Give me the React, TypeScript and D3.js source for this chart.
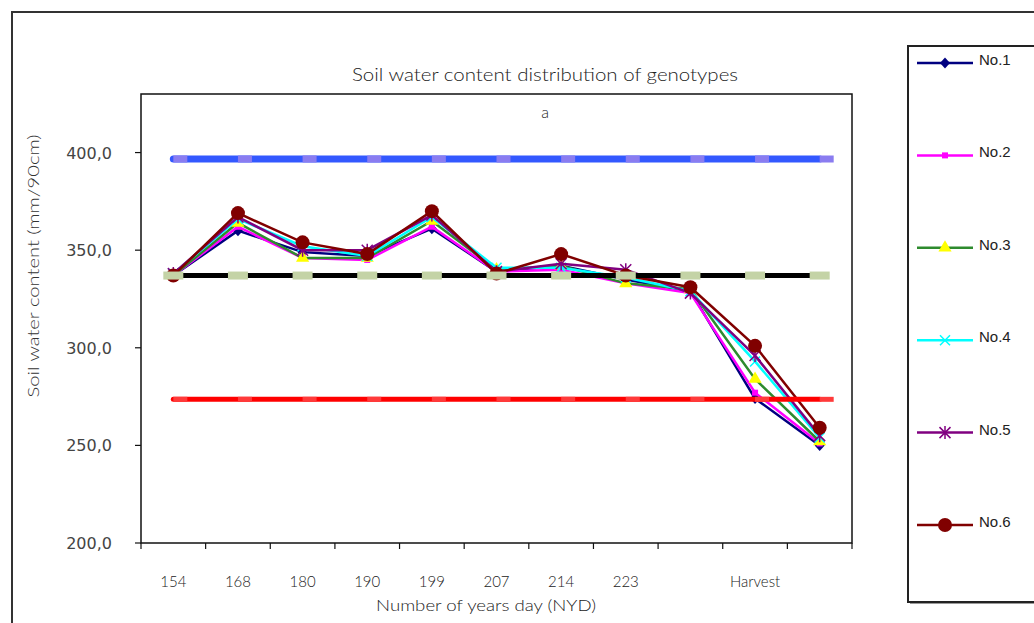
import React from 'react';
import * as d3 from 'd3';

// categories (x) - two unlabeled sampling days
const categories = ['154', '168', '180', '190', '199', '207', '214', '223', '', 'Harvest', ''];
const yTicks = [200, 250, 300, 350, 400];

const no1 = [337, 360, 349, 347, 361, 339, 342, 335, 329, 274, 250];
const no2 = [337, 362, 346, 345, 362, 339, 340, 333, 328, 277, 251];
const no3 = [337, 364, 346, 346, 365, 340, 342, 333, 330, 284, 252];
const no4 = [338, 366, 352, 347, 367, 341, 341, 336, 329, 293, 254];
const no5 = [338, 367, 350, 350, 368, 339, 343, 340, 328, 296, 255];
const no6 = [337, 369, 354, 348, 370, 338, 348, 337, 331, 301, 259];

// reference levels
const upperLine = [396.7, 396.7, 396.7, 396.7, 396.7, 396.7, 396.7, 396.7, 396.7, 396.7, 396.7];
const midLine = [337, 337, 337, 337, 337, 337, 337, 337, 337, 337, 337];
const lowerLine = [273.6, 273.6, 273.6, 273.6, 273.6, 273.6, 273.6, 273.6, 273.6, 273.6, 273.6];

const series = [
  { name: 'No.1', values: no1, color: '#000080', marker: 'diamond', fill: '#000080' },
  { name: 'No.2', values: no2, color: '#ff00ff', marker: 'square', fill: '#ff00ff' },
  { name: 'No.3', values: no3, color: '#2e8b2e', marker: 'triangle', fill: '#ffff00' },
  { name: 'No.4', values: no4, color: '#00ffff', marker: 'x', fill: '#00ffff' },
  { name: 'No.5', values: no5, color: '#800080', marker: 'asterisk', fill: '#800080' },
  { name: 'No.6', values: no6, color: '#800000', marker: 'circle', fill: '#800000' },
];

const W = 1034, H = 623;
const plot = { left: 141, right: 852, top: 94, bottom: 543 };
const labelFont = "Lato, 'Open Sans', sans-serif";

const Marker = ({ type, x, y, color, fill }) => {
  if (type === 'diamond') {
    return <path d={`M${x},${y - 5.5}L${x + 5},${y}L${x},${y + 5.5}L${x - 5},${y}Z`} fill={fill} />;
  }
  if (type === 'square') {
    return <rect x={x - 3} y={y - 3} width={6} height={6} fill={fill} />;
  }
  if (type === 'triangle') {
    const p = d3.symbol().type(d3.symbolTriangle).size(75)();
    return <path d={p} transform={`translate(${x},${y})`} fill={fill} />;
  }
  if (type === 'x') {
    const r = 5;
    return (
      <path d={`M${x - r},${y - r}L${x + r},${y + r}M${x - r},${y + r}L${x + r},${y - r}`}
        stroke={color} strokeWidth={1.5} fill="none" />
    );
  }
  if (type === 'asterisk') {
    const r = 5.5;
    return (
      <path d={`M${x - r},${y - r}L${x + r},${y + r}M${x - r},${y + r}L${x + r},${y - r}M${x},${y - r - 1}L${x},${y + r + 1}`}
        stroke={color} strokeWidth={1.5} fill="none" />
    );
  }
  return <circle cx={x} cy={y} r={7} fill={fill} />;
};

export default function App() {
  const x = d3.scaleBand<number>()
    .domain(d3.range(categories.length))
    .range([plot.left, plot.right]);
  const y = d3.scaleLinear().domain([200, 430]).range([plot.bottom, plot.top]);
  const cx = (i) => x(i) + x.bandwidth() / 2;

  const line = d3.line<number>().x((d, i) => cx(i)).y(d => y(d));

  const legendY = d3.scaleLinear().domain([0, 5]).range([63, 525]);

  return (
    <svg width={W} height={H} style={{ position: 'absolute', left: 0, top: 0, background: '#fff' }}>
      {/* outer chart border */}
      <rect x={12} y={12} width={1100} height={700} fill="none" stroke="#333" strokeWidth={2} />

      <text x={545} y={81} textAnchor="middle" fontFamily={labelFont} fontSize={17} fontWeight={300}
        fill="#222" textLength={386} lengthAdjust="spacingAndGlyphs">
        Soil water content distribution of genotypes
      </text>

      <rect x={plot.left} y={plot.top} width={plot.right - plot.left} height={plot.bottom - plot.top}
        fill="#fff" stroke="#111" strokeWidth={1.5} />

      <text x={545} y={118} textAnchor="middle" fontFamily={labelFont} fontSize={16} fontWeight={300} fill="#222">a</text>

      {/* y axis */}
      {yTicks.map(t => (
        <g key={t}>
          <line x1={plot.left - 6} x2={plot.left} y1={y(t)} y2={y(t)} stroke="#111" strokeWidth={1.2} />
          <text x={112} y={y(t) + 6} textAnchor="end" fontFamily="'DejaVu Sans', sans-serif" fontSize={16}
            fill="#444">{d3.format('.1f')(t).replace('.', ',')}</text>
        </g>
      ))}
      <text transform={`translate(39,266) rotate(-90)`} textAnchor="middle"
        fontFamily={labelFont} fontSize={16} fontWeight={300} fill="#333"
        textLength={263} lengthAdjust="spacingAndGlyphs">Soil water content (mm/90cm)</text>

      {/* x axis */}
      {d3.range(categories.length + 1).map(i => {
        const xx = i < categories.length ? x(i) : plot.right;
        return <line key={i} x1={xx} x2={xx} y1={plot.bottom} y2={plot.bottom + 6} stroke="#111" strokeWidth={1.2} />;
      })}
      {categories.map((c, i) => (
        <text key={i} x={cx(i)} y={587} textAnchor="middle" fontFamily={labelFont} fontWeight={300}
          fontSize={15} fill="#222">{c}</text>
      ))}
      <text x={486} y={611} textAnchor="middle" fontFamily={labelFont} fontSize={16} fontWeight={300}
        fill="#222" textLength={220} lengthAdjust="spacingAndGlyphs">Number of years day (NYD)</text>

      {/* genotype series */}
      {series.map(s => (
        <g key={s.name}>
          <path d={line(s.values)} fill="none" stroke={s.color} strokeWidth={2.5} />
          {s.values.map((v, i) => (
            <Marker key={i} type={s.marker} x={cx(i)} y={y(v)} color={s.color} fill={s.fill} />
          ))}
        </g>
      ))}

      {/* reference lines */}
      <path d={line(upperLine)} fill="none" stroke="#3358ff" strokeWidth={7} strokeLinecap="round" />
      {upperLine.map((v, i) => (
        <rect key={i} x={cx(i)} y={y(v) - 3.5} width={14} height={7} fill="#8a7cf0" />
      ))}
      <path d={line(midLine)} fill="none" stroke="#000" strokeWidth={5} />
      {midLine.map((v, i) => (
        <rect key={i} x={cx(i) - 10} y={y(v) - 4} width={20} height={8} fill="#c4d3a6" />
      ))}
      <path d={line(lowerLine)} fill="none" stroke="#ff0000" strokeWidth={5} strokeLinecap="round" />
      {lowerLine.map((v, i) => (
        <rect key={i} x={cx(i)} y={y(v) - 2.5} width={14} height={5} fill="#ff3a3a" />
      ))}

      {/* legend */}
      <rect x={910} y={48} width={200} height={556} fill="#999" />
      <rect x={908} y={46} width={200} height={556} fill="#fff" stroke="#222" strokeWidth={2} />
      {series.map((s, i) => (
        <g key={s.name}>
          <line x1={917} x2={973} y1={legendY(i)} y2={legendY(i)} stroke={s.color} strokeWidth={2.5} />
          <Marker type={s.marker} x={945} y={legendY(i)} color={s.color} fill={s.fill} />
          <text x={979} y={legendY(i) + 2} fontFamily="'Liberation Sans Narrow', 'Liberation Sans', sans-serif"
            fontSize={15} fill="#222">{s.name}</text>
        </g>
      ))}
    </svg>
  );
}
